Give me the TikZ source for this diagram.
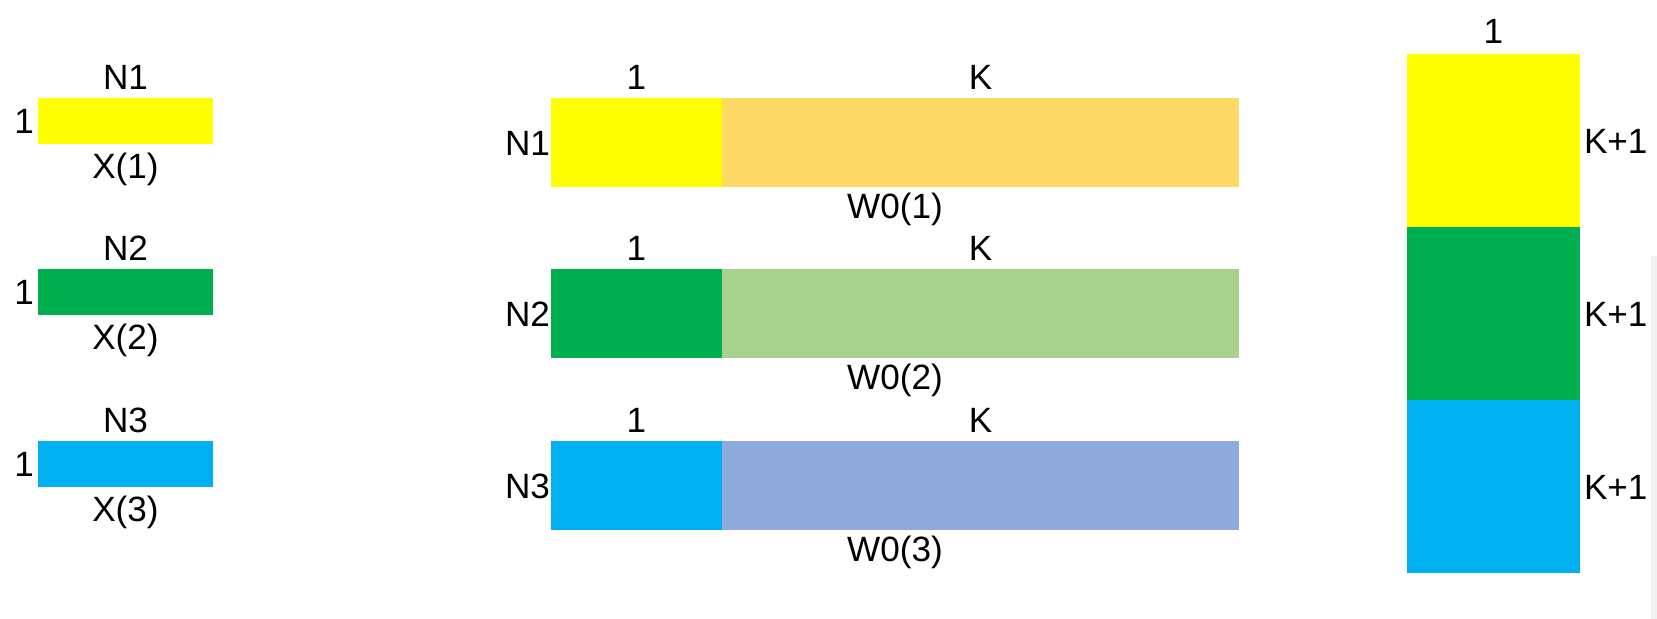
\documentclass[tikz,border=0pt]{standalone}
\usepackage{fontspec}
\setmainfont{Liberation Sans}
\usetikzlibrary{positioning,calc}
\definecolor{ylw}{HTML}{FFFF00}
\definecolor{grn}{HTML}{00B050}
\definecolor{blu}{HTML}{00B0F0}
\definecolor{ylwlight}{HTML}{FFD966}
\definecolor{grnlight}{HTML}{A9D18E}
\definecolor{blulight}{HTML}{8FAADC}
\tikzset{
    blk/.style={fill=#1, draw=none, inner sep=0, outer sep=0},
    smallblk/.style={blk=#1, minimum width=1.75cm, minimum height=0.46cm},
    rowblk/.style={blk=#1, minimum height=0.89cm},
    colblk/.style={blk=#1, minimum width=1.73cm, minimum height=1.73cm},
    lbl/.style={inner sep=0, outer sep=0, text height=7.2pt, text depth=0pt, font=\fontsize{10}{12}\selectfont},
}
\begin{document}
\begin{tikzpicture}
    \useasboundingbox (0,0) rectangle (16.57,6.19);
    \fill[black!5] (16.51,0) rectangle (16.57,3.63);
    % X(i)
    \node[smallblk=ylw, anchor=north west] (x1) at (0.38,5.21) {};
    \node[lbl, above=0.08 of x1] (x1top) {N1};
    \node[lbl, left=0.04 of x1] (x1left) {1};
    \node[lbl, below=0.09 of x1] (x1bot) {X(1)};
    \node[smallblk=grn, anchor=north west] (x2) at (0.38,3.50) {};
    \node[lbl, above=0.08 of x2] (x2top) {N2};
    \node[lbl, left=0.04 of x2] (x2left) {1};
    \node[lbl, below=0.09 of x2] (x2bot) {X(2)};
    \node[smallblk=blu, anchor=north west] (x3) at (0.38,1.78) {};
    \node[lbl, above=0.08 of x3] (x3top) {N3};
    \node[lbl, left=0.04 of x3] (x3left) {1};
    \node[lbl, below=0.09 of x3] (x3bot) {X(3)};
    % W0(i)
    \node[rowblk=ylw, minimum width=1.71cm, anchor=north west] (w1a) at (5.51,5.21) {};
    \node[rowblk=ylwlight, minimum width=5.17cm, right=0 of w1a] (w1b) {};
    \node[lbl, above=0.08 of w1a] (w1one) {1};
    \node[lbl, above=0.08 of w1b] (w1k) {K};
    \node[lbl, left=0.01 of w1a] (w1left) {N1};
    \node[lbl, below=0.06 of {$(w1a.south west)!0.5!(w1b.south east)$}] (w1bot) {W0(1)};
    \node[rowblk=grn, minimum width=1.71cm, anchor=north west] (w2a) at (5.51,3.50) {};
    \node[rowblk=grnlight, minimum width=5.17cm, right=0 of w2a] (w2b) {};
    \node[lbl, above=0.08 of w2a] (w2one) {1};
    \node[lbl, above=0.08 of w2b] (w2k) {K};
    \node[lbl, left=0.01 of w2a] (w2left) {N2};
    \node[lbl, below=0.06 of {$(w2a.south west)!0.5!(w2b.south east)$}] (w2bot) {W0(2)};
    \node[rowblk=blu, minimum width=1.71cm, anchor=north west] (w3a) at (5.51,1.78) {};
    \node[rowblk=blulight, minimum width=5.17cm, right=0 of w3a] (w3b) {};
    \node[lbl, above=0.08 of w3a] (w3one) {1};
    \node[lbl, above=0.08 of w3b] (w3k) {K};
    \node[lbl, left=0.01 of w3a] (w3left) {N3};
    \node[lbl, below=0.06 of {$(w3a.south west)!0.5!(w3b.south east)$}] (w3bot) {W0(3)};
    % stacked column
    \node[colblk=ylw, anchor=north west] (c1) at (14.07,5.65) {};
    \node[colblk=grn, below=0 of c1] (c2) {};
    \node[colblk=blu, below=0 of c2] (c3) {};
    \node[lbl, above=0.10 of c1] (ctop) {1};
    \node[lbl, right=0.04 of c1] (c1right) {K+1};
    \node[lbl, right=0.04 of c2] (c2right) {K+1};
    \node[lbl, right=0.04 of c3] (c3right) {K+1};
\end{tikzpicture}
\end{document}
